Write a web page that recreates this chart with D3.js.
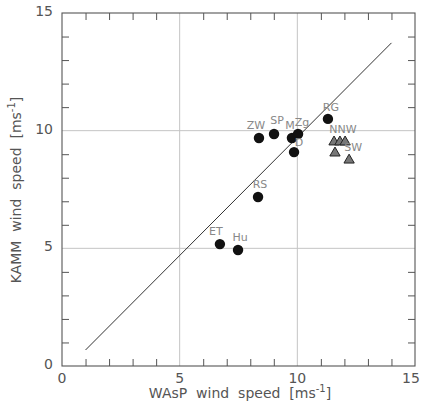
<!DOCTYPE html>
<html><head><meta charset="utf-8">
<script src="https://cdn.jsdelivr.net/npm/d3@7"></script>
<style>body{margin:0;background:#fff}svg{display:block}text{font-family:"DejaVu Sans",sans-serif}</style>
</head><body><svg id="c" width="422" height="406"></svg>
<script>
const stationNames = ["ET","Hu","RS","ZW","SP","M","Zg","D","RG"];
const stationWasp = [6.71,7.48,8.33,8.37,9.01,9.77,10.03,9.86,11.30];
const stationKamm = [5.18,4.93,7.18,9.69,9.86,9.69,9.86,9.09,10.50];
const sectorWasp = [11.56,11.81,12.03,11.60,12.20];
const sectorKamm = [9.52,9.52,9.52,9.05,8.75];
const sectorLabels = ["NNW","SW"];
const fitX = [1,14];
const fitY = [0.68,13.73];
const tickLabels = [0,5,10,15];

const svg = d3.select("#c");
const L=62,R=415,T=13,B=366;
const x = d3.scaleLinear().domain([0,15]).range([L,R]);
const y = d3.scaleLinear().domain([0,15]).range([B,T]);
const frame="#555", grid="#c4c4c4", txt="#555";

// gridlines
[5,10].forEach(v=>{
  svg.append("line").attr("x1",x(v)).attr("x2",x(v)).attr("y1",T).attr("y2",B).attr("stroke",grid).attr("stroke-width",1);
  svg.append("line").attr("x1",L).attr("x2",R).attr("y1",y(v)).attr("y2",y(v)).attr("stroke",grid).attr("stroke-width",1);
});
// minor ticks on all sides
const minor = d3.range(1,15).filter(v=>v%5!==0);
const tl=7;
svg.append("g").attr("transform",`translate(0,${B})`).call(d3.axisTop(x).tickValues(minor).tickSize(tl).tickFormat(""));
svg.append("g").attr("transform",`translate(0,${T})`).call(d3.axisBottom(x).tickValues(minor).tickSize(tl).tickFormat(""));
svg.append("g").attr("transform",`translate(${L},0)`).call(d3.axisRight(y).tickValues(minor).tickSize(tl).tickFormat(""));
svg.append("g").attr("transform",`translate(${R},0)`).call(d3.axisLeft(y).tickValues(minor).tickSize(tl).tickFormat(""));
svg.selectAll("g .domain").remove();
svg.selectAll("g .tick line").attr("stroke",frame);
// frame
svg.append("rect").attr("x",L).attr("y",T).attr("width",R-L).attr("height",B-T).attr("fill","none").attr("stroke",frame).attr("stroke-width",1.1);

// tick labels
svg.selectAll(".xl").data(tickLabels).enter().append("text")
  .attr("x",d=>Math.min(x(d),R-4)).attr("y",B+17).attr("text-anchor","middle").attr("font-size",14).attr("fill",txt).text(d=>d);
svg.selectAll(".yl").data(tickLabels).enter().append("text")
  .attr("x",L-9).attr("y",d=>y(d)+3).attr("text-anchor","end").attr("font-size",14).attr("fill",txt).text(d=>d);

// axis titles
const xt = svg.append("text").attr("x",240).attr("y",398).attr("text-anchor","middle").attr("font-size",14).attr("fill",txt).attr("xml:space","preserve");
xt.append("tspan").text("WAsP  wind  speed  [ms");
xt.append("tspan").attr("dy",-6).attr("font-size",10).text("-1");
xt.append("tspan").attr("dy",6).text("]");
const yt = svg.append("text").attr("transform","translate(21,190) rotate(-90)").attr("text-anchor","middle").attr("font-size",14).attr("fill",txt).attr("xml:space","preserve");
yt.append("tspan").text("KAMM  wind  speed  [ms");
yt.append("tspan").attr("dy",-6).attr("font-size",10).text("-1");
yt.append("tspan").attr("dy",6).text("]");

// fit line
svg.append("line").attr("x1",x(fitX[0])).attr("y1",y(fitY[0])).attr("x2",x(fitX[1])).attr("y2",y(fitY[1])).attr("stroke","#333").attr("stroke-width",1);

// station circles
const st = stationNames.map((n,i)=>({n,x:stationWasp[i],y:stationKamm[i]}));
svg.selectAll(".pt").data(st).enter().append("circle")
  .attr("cx",d=>x(d.x)).attr("cy",d=>y(d.y)).attr("r",5.2).attr("fill","#111");
const lblOff = {ET:[-4,-9],Hu:[2,-9],RS:[2,-9],ZW:[-3,-9],SP:[3,-10],M:[-2,-9],Zg:[4,-8],D:[5,-6],RG:[3,-8]};
svg.selectAll(".lb").data(st).enter().append("text")
  .attr("x",d=>x(d.x)+lblOff[d.n][0]).attr("y",d=>y(d.y)+lblOff[d.n][1])
  .attr("text-anchor","middle").attr("font-size",11).attr("fill","#888").text(d=>d.n);

// sector triangles
const tri = d3.symbol().type(d3.symbolTriangle).size(46);
sectorWasp.forEach((v,i)=>{
  svg.append("path").attr("d",tri).attr("transform",`translate(${x(v)},${y(sectorKamm[i])})`)
    .attr("fill","#777").attr("stroke","#222").attr("stroke-width",1);
});
svg.append("text").attr("x",x(11.81)+3).attr("y",y(9.52)-9).attr("text-anchor","middle").attr("font-size",11).attr("fill","#888").text(sectorLabels[0]);
svg.append("text").attr("x",x(12.20)+4).attr("y",y(8.75)-9).attr("text-anchor","middle").attr("font-size",11).attr("fill","#888").text(sectorLabels[1]);
</script></body></html>
